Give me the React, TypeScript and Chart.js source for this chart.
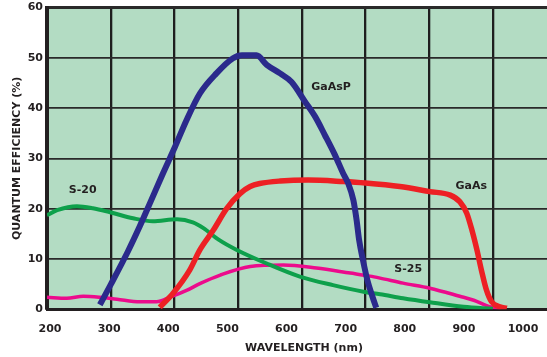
import React, { useEffect, useRef } from "react";
import { Chart, registerables } from "chart.js";

Chart.register(...registerables);

// Axis ticks
const xTickValues = [200, 300, 400, 500, 600, 700, 800, 900, 1000];
const yTickValues = [0, 10, 20, 30, 40, 50, 60];
const xMin = 200;
const xMax = 985;

// GaAsP (blue)
const gaaspWl = [283, 300, 327, 346, 362, 382, 401, 419, 440, 466, 492, 506, 529, 545, 566, 584, 605, 621, 636, 652, 665, 673, 681, 686, 690, 696, 703, 711, 717];
const gaaspQe = [0.9, 4.9, 11.5, 16.6, 21.2, 27, 32.3, 37.6, 42.9, 46.9, 49.9, 50.5, 50.5, 48.6, 46.9, 45.2, 41.3, 38.3, 34.7, 30.7, 27, 25, 21.7, 17.8, 13.8, 9.8, 5.8, 2.5, 0.3];

// GaAs (red)
const gaasWl = [377, 398, 424, 440, 461, 482, 503, 519, 534, 566, 610, 665, 700, 754, 801, 833, 848, 859, 867, 875, 882, 890, 898, 911, 922];
const gaasQe = [0.4, 3.2, 7.8, 11.8, 15.7, 20, 23, 24.4, 25, 25.5, 25.7, 25.4, 25.1, 24.4, 23.4, 22.7, 21.4, 19.1, 15.8, 11.8, 7.8, 3.8, 1.5, 0.5, 0.2];

// S-20 (green)
const s20Wl = [200, 216, 247, 272, 299, 335, 366, 404, 429, 445, 470, 498, 545, 597, 649, 697, 723, 759, 801, 854, 900];
const s20Qe = [18.7, 19.7, 20.5, 20.1, 19.3, 18.1, 17.5, 17.9, 17.3, 16.2, 13.8, 11.8, 9.1, 6.5, 4.8, 3.5, 3.0, 2.2, 1.4, 0.5, 0.1];

// S-25 (pink)
const s25Wl = [200, 231, 257, 283, 310, 346, 372, 393, 420, 440, 472, 519, 571, 623, 676, 707, 723, 759, 801, 848, 870, 895, 912];
const s25Qe = [2.4, 2.2, 2.6, 2.4, 2.0, 1.5, 1.5, 2.4, 3.8, 5.1, 6.8, 8.5, 8.8, 8.2, 7.2, 6.6, 6.2, 5.2, 4.2, 2.6, 1.8, 0.5, 0.2];

// Curve labels (data coordinates)
const labelTexts = ["S-20", "GaAsP", "GaAs", "S-25"];
const labelWl = [256, 646, 866, 767];
const labelQe = [23.7, 44.2, 24.5, 8.0];

const FONT = "'DejaVu Sans', sans-serif";
const TEXT = "#231f20";

const pts = (xs: number[], ys: number[]) => xs.map((x, i) => ({ x, y: ys[i] }));

const bgPlugin = {
  id: "bgfill",
  beforeDraw(chart: any) {
    const { ctx, chartArea } = chart;
    ctx.save();
    ctx.fillStyle = "#b3dcc3";
    ctx.fillRect(chartArea.left, chartArea.top, chartArea.right - chartArea.left, chartArea.bottom - chartArea.top);
    ctx.restore();
  },
};

// The printed wavelength labels run on a slightly narrower spacing than the grid,
// extending past the right edge; widen the label axis accordingly.
const labelAxisPlugin = {
  id: "labelAxis",
  afterLayout(chart: any) {
    const s = chart.scales.x2;
    s.right = s.left + 514;
    s.width = 514;
    s.configure();
  },
};

const labelPlugin = {
  id: "curveLabels",
  afterDatasetsDraw(chart: any) {
    const { ctx } = chart;
    const xs = chart.scales.x;
    const ys = chart.scales.y;
    ctx.save();
    ctx.font = `bold 11px ${FONT}`;
    ctx.fillStyle = TEXT;
    ctx.textAlign = "center";
    ctx.textBaseline = "middle";
    labelTexts.forEach((t, i) => {
      ctx.fillText(t, xs.getPixelForValue(labelWl[i]), ys.getPixelForValue(labelQe[i]));
    });
    ctx.restore();
  },
};

const noPad = (s: any) => {
  s.paddingTop = 0;
  s.paddingBottom = 0;
  s.paddingLeft = 0;
  s.paddingRight = 0;
};

export default function App() {
  const ref = useRef<HTMLCanvasElement>(null);
  useEffect(() => {
    const chart = new Chart(ref.current!, {
      type: "line",
      data: {
        datasets: [
          { label: "GaAsP", data: pts(gaaspWl, gaaspQe), borderColor: "#2b2a8c", borderWidth: 6 },
          { label: "GaAs", data: pts(gaasWl, gaasQe), borderColor: "#ed2024", borderWidth: 5.5 },
          { label: "S-20", data: pts(s20Wl, s20Qe), borderColor: "#0ea04b", borderWidth: 4 },
          { label: "S-25", data: pts(s25Wl, s25Qe), borderColor: "#ec0b8c", borderWidth: 3.5 },
        ].map((d) => ({ ...d, pointRadius: 0, fill: false, cubicInterpolationMode: "monotone" as const, borderCapStyle: "butt" as const })),
      },
      options: {
        responsive: false,
        animation: false,
        layout: { padding: { top: 7.5, right: 0, left: 0, bottom: 0 } },
        plugins: { legend: { display: false }, tooltip: { enabled: false } },
        scales: {
          x: {
            type: "linear",
            position: "bottom",
            weight: 0,
            min: xMin,
            max: xMax,
            afterBuildTicks: (s: any) => {
              s.ticks = xTickValues.filter((v) => v <= xMax).map((v) => ({ value: v }));
            },
            afterFit: (s: any) => {
              s.height = 0;
              noPad(s);
            },
            ticks: { display: false },
            grid: { color: "#1e1e1e", lineWidth: 2.3, drawTicks: false },
            border: { display: true, color: TEXT, width: 3 },
          },
          x2: {
            type: "linear",
            position: "bottom",
            weight: 1,
            min: 200 - 3 / 0.59125,
            max: 200 + 511 / 0.59125,
            afterBuildTicks: (s: any) => {
              s.ticks = xTickValues.map((v) => ({ value: v }));
            },
            afterFit: (s: any) => {
              s.height = 47.7;
              noPad(s);
            },
            ticks: {
              color: TEXT,
              font: { family: FONT, size: 11, weight: "bold" },
              padding: 13,
              autoSkip: false,
              maxRotation: 0,
              callback: (v: any) => String(v),
            },
            grid: { display: false, drawTicks: false },
            border: { display: false },
            title: {
              display: true,
              text: "WAVELENGTH (nm)",
              color: TEXT,
              font: { family: FONT, size: 11, weight: "bold" },
              padding: { top: 0, bottom: 2.4 },
            },
          },
          y: {
            type: "linear",
            min: 0,
            max: 60,
            afterBuildTicks: (s: any) => {
              s.ticks = yTickValues.map((v) => ({ value: v }));
            },
            afterFit: (s: any) => {
              s.width = 47;
              noPad(s);
            },
            ticks: {
              color: TEXT,
              font: { family: FONT, size: 11, weight: "bold" },
              padding: 4,
              callback: (v: any) => String(v),
            },
            grid: {
              color: "#2a2a2a",
              lineWidth: (c: any) => (c.tick && c.tick.value === 60 ? 3 : 1.7),
              drawTicks: false,
            },
            border: { display: true, color: TEXT, width: 4 },
            title: {
              display: true,
              text: "QUANTUM EFFICIENCY (%)",
              color: TEXT,
              font: { family: FONT, size: 11, weight: "bold" },
              padding: { top: 11, bottom: 0 },
            },
          },
        },
      },
      plugins: [bgPlugin, labelAxisPlugin, labelPlugin],
    } as any);
    return () => chart.destroy();
  }, []);
  return (
    <div style={{ position: "fixed", left: 0, top: 0, width: 547, height: 357, background: "#fff" }}>
      <canvas ref={ref} width={547} height={357} style={{ display: "block" }} />
    </div>
  );
}
